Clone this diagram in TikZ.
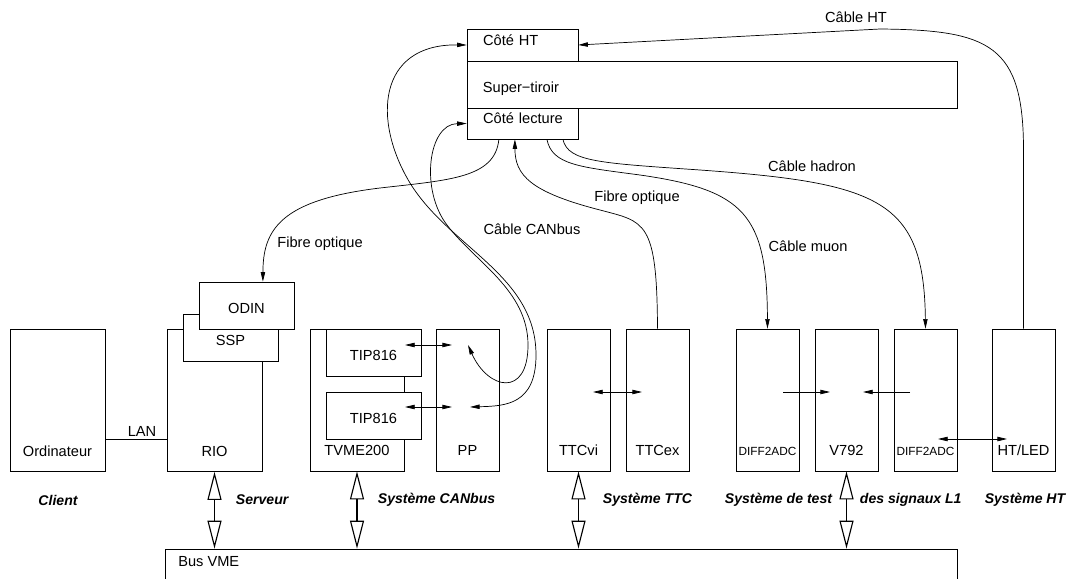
\documentclass[tikz,border=0pt]{standalone}
\usepackage{fontspec}
\setmainfont{Liberation Sans}
\usetikzlibrary{arrows.meta,positioning,calc}

\tikzset{
  box/.style={draw,rectangle,line width=0.5pt,fill=white,inner xsep=0pt,inner ysep=0pt,text depth=10.7pt,align=center},
  crate/.style={box,minimum width=1.575cm,text height=90.3pt},
  card/.style={box,minimum width=2.375cm,text height=22.7pt},
  tiroir/.style={box,inner xsep=11.4pt,align=left},
  cable/.style={line width=0.5pt,>={Triangle[length=2.4mm,width=1.1mm]}},
  busarrow/.style={line width=1.4pt,{Triangle[open,length=7mm,width=3.5mm,line width=0.8pt]}-{Triangle[open,length=7mm,width=3.5mm,line width=0.8pt]}},
  sys/.style={font=\fontsize{10}{12}\selectfont\bfseries\itshape},
  small/.style={font=\fontsize{8.4}{10}\selectfont}
}

\begin{document}
\begin{tikzpicture}[x=0.025cm,y=-0.025cm,font=\fontsize{10.4}{12.5}\selectfont]
\useasboundingbox (0,0) rectangle (1073,579);

% super-tiroir
\node (cotehat) at (522.5,45) [tiroir,text width=56pt,text height=12.1pt] {\mbox{Côté HT}};
\node (tiroir) at (712,84.5) [tiroir,text width=325.8pt,text height=22.7pt] {\mbox{Super−tiroir}};
\node (cotelec) at (522.5,123.5) [tiroir,text width=56pt,text height=11.3pt] {\mbox{Côté lecture}};

% chassis
\node (ordi) at (57.5,400.5) [crate,minimum width=2.375cm] {Ordinateur};
\node (rio) at (214.5,400.5) [crate,minimum width=2.375cm] {RIO};
\node (ssp) at (230.5,337.5) [card] {SSP};
\node (odin) at (246.5,305.5) [card] {ODIN};
\node (tvme) at (357,400) [crate,minimum width=2.35cm] {TVME200};
\node (tipa) at (373.5,352.5) [card] {TIP816};
\node (tipb) at (373.5,415.5) [card] {TIP816};
\node (pp) at (467.5,400) [crate] {PP};
\node (ttcvi) at (578.5,400) [crate] {TTCvi};
\node (ttcex) at (657.5,400) [crate] {TTCex};
\node (diffa) at (767.5,400) [crate,small] {DIFF2ADC};
\node (v792) at (846.5,400) [crate] {V792};
\node (diffb) at (925.5,400) [crate,small] {DIFF2ADC};
\node (htled) at (1023.5,400) [crate] {HT/LED};

\node (bus) at (561,569) [draw,line width=0.5pt,minimum width=19.8cm,minimum height=1cm] {};
\node (busvme) at (178,562) [anchor=west,inner sep=0pt] {Bus VME};

% points dans les tiroirs
\coordinate (lan) at (0,439);
\coordinate (tipout) at (405,345);
\coordinate (ppin) at (452,345);
\coordinate (tipoutb) at (405,407);
\coordinate (ppinb) at (452,407);
\coordinate (cana) at (468,345);
\coordinate (canb) at (470,407);
\coordinate (ttcin) at (593,392);
\coordinate (ttcout) at (642,392);
\coordinate (adca) at (783,392);
\coordinate (vmea) at (830,392);
\coordinate (adcb) at (910,392);
\coordinate (vmeb) at (863,392);
\coordinate (adcc) at (938,439);
\coordinate (ledin) at (1007,439);

\draw[cable] (ordi.east |- lan) -- (rio.west |- lan);
\node (lblan) at (142,431) {LAN};

\draw[cable,<->] (tipout) -- (ppin);
\draw[cable,<->] (tipoutb) -- (ppinb);
\draw[cable,<->] (ttcin) -- (ttcout);
\draw[cable,->] (adca) -- (vmea);
\draw[cable,->] (adcb) -- (vmeb);
\draw[cable,<->] (adcc) -- (ledin);

% cables
\draw[cable,->] ([xshift=-0.59cm]cotelec.south) .. controls (495,178) and (450,180) .. (380,188)
  .. controls (280,200) and (263,230) .. ([xshift=0.41cm]odin.north);
\node (lbfibrea) at (320,244) {Fibre optique};

\draw[cable,->] (ttcex.north) .. controls (657,220) and (645,222) .. (600,210)
  .. controls (530,192) and (515,175) .. ([xshift=-0.19cm]cotelec.south);
\node (lbfibreb) at (637,198) {Fibre optique};

\draw[cable,->] ([xshift=0.61cm]cotelec.south) .. controls (552,165) and (580,167) .. (640,175)
  .. controls (745,190) and (767,215) .. (diffa.north);
\node (lbmuon) at (808,246) {Câble muon};

\draw[cable,->] ([xshift=1.01cm]cotelec.south) .. controls (568,162) and (600,163) .. (700,170)
  .. controls (880,183) and (924,200) .. (diffb.north);
\node (lbhadron) at (812,166) {Câble hadron};

\draw[cable,->] (htled.north) -- (1023.5,150) .. controls (1023.5,45) and (990,30) .. (880,29)
  -- (cotehat.east);
\node (lbht) at (856,17) {Câble HT};

\draw[cable,<->] (cotelec.west) .. controls (428,124) and (420,190) .. (447,225)
  .. controls (475,262) and (528,290) .. (528,345)
  .. controls (528,398) and (488,390) .. (cana);
\draw[cable,<->] (cotehat.west) .. controls (378,44) and (372,120) .. (410,183)
  .. controls (450,248) and (536,275) .. (536,355)
  .. controls (536,405) and (505,406) .. (canb);
\node (lbcanbus) at (532,229) {Câble CANbus};

% bus VME
\draw[busarrow] (rio.south) -- (rio.south |- bus.north);
\draw[busarrow] (tvme.south) -- (tvme.south |- bus.north);
\draw[busarrow] (ttcvi.south) -- (ttcvi.south |- bus.north);
\draw[busarrow] (v792.south) -- (v792.south |- bus.north);

\node (client) at (58,500) [sys] {Client};
\node (serveur) at (231,500) [sys,anchor=west] {Serveur};
\node (syscan) at (373,500) [sys,anchor=west] {Système CANbus};
\node (systtc) at (598,500) [sys,anchor=west] {Système TTC};
\node (systest) at (837,500) [sys,anchor=east] {Système de test};
\node (syssig) at (855,500) [sys,anchor=west] {des signaux L1};
\node (sysht) at (1025,500) [sys] {Système HT};
\end{tikzpicture}
\end{document}
